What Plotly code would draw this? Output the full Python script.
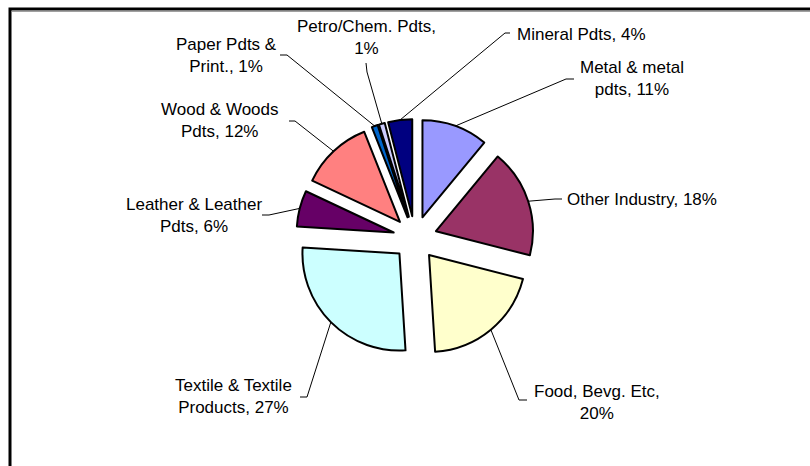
import math
import plotly.graph_objects as go

# Sector shares (%) in clockwise order starting at 12 o'clock
sectors = ["Metal & metal pdts", "Other Industry", "Food, Bevg. Etc",
           "Textile & Textile Products", "Leather & Leather Pdts",
           "Wood & Woods Pdts", "Paper Pdts & Print.", "Petro/Chem. Pdts",
           "Mineral Pdts"]
shares = [11, 18, 20, 27, 6, 12, 1, 1, 4]
label_text = ["Metal & metal<br>pdts, 11%", "Other Industry, 18%",
              "Food, Bevg. Etc,<br>20%", "Textile & Textile<br>Products, 27%",
              "Leather & Leather<br>Pdts, 6%", "Wood & Woods<br>Pdts, 12%",
              "Paper Pdts &<br>Print., 1%", "Petro/Chem. Pdts,<br>1%",
              "Mineral Pdts, 4%"]
colors = ["#9999FF", "#993366", "#FFFFCC", "#CCFFFF", "#660066",
          "#FF8080", "#0066CC", "#CCCCFF", "#000080"]

W, H = 810, 466
CX, CY = 415, 238          # pie centre in pixels (from top-left)
R_OUT = 119                # radius incl. explosion
PULL = 0.227


def px(x, y):
    return x / W, 1 - y / H


# label placement: (text x, text y, anchor, elbow point, tick end)
label_layout = [
    (632, 79, "center", (566, 79), (574, 79)),
    (565, 199, "left", (555, 199), (562, 199)),
    (597, 402, "center", (519, 400), (527, 400)),
    (234, 396, "center", (307, 397), (300, 397)),
    (194, 215, "center", (269, 215), (262, 215)),
    (220, 120, "center", (295, 121), (289, 121)),
    (226, 56, "center", (287, 55), (280, 55)),
    (366, 38, "center", (367, 72), (366, 63)),
    (515, 34, "left", (505, 33), (510, 33)),
]

fig = go.Figure()
fig.add_trace(go.Pie(
    labels=sectors,
    values=shares,
    sort=False,
    direction="clockwise",
    rotation=0,
    pull=[PULL] * len(shares),
    marker=dict(colors=colors, line=dict(color="black", width=2)),
    textinfo="none",
    showlegend=False,
    domain=dict(x=[(CX - R_OUT) / W, (CX + R_OUT) / W],
                y=[1 - (CY + R_OUT) / H, 1 - (CY - R_OUT) / H]),
))

shapes = []
annotations = []
total = sum(shares)
cum = 0
for val, txt, (tx, ty, anc, elbow, tick) in zip(shares, label_text, label_layout):
    mid = (cum + val / 2) / total * 2 * math.pi
    cum += val
    ax = CX + R_OUT * math.sin(mid)
    ay = CY - R_OUT * math.cos(mid)
    x0, y0 = px(ax, ay)
    x1, y1 = px(*elbow)
    x2, y2 = px(*tick)
    shapes.append(dict(type="path", xref="paper", yref="paper",
                       path=f"M {x0} {y0} L {x1} {y1} L {x2} {y2}",
                       line=dict(color="black", width=1)))
    lx, ly = px(tx, ty)
    annotations.append(dict(x=lx, y=ly, xref="paper", yref="paper",
                            text=txt, showarrow=False, xanchor=anc,
                            yanchor="middle", align="center",
                            font=dict(size=17, color="black",
                                      family="Liberation Sans, Arial")))

# chart area frame (top and left edges visible)
for path, col, w in [
    (f"M {px(10, 466)[0]} {px(10, 466)[1]} L {px(10, 9)[0]} {px(10, 9)[1]} L 1 {px(10, 9)[1]}", "black", 3),
]:
    shapes.append(dict(type="path", xref="paper", yref="paper", path=path,
                       line=dict(color=col, width=w)))
shapes.append(dict(type="line", xref="paper", yref="paper",
                   x0=px(12, 11)[0], y0=px(12, 11.5)[1], x1=1, y1=px(12, 11.5)[1],
                   line=dict(color="#A0A0A0", width=1)))

fig.update_layout(
    width=W, height=H,
    margin=dict(l=0, r=0, t=0, b=0),
    paper_bgcolor="white", plot_bgcolor="white",
    shapes=shapes, annotations=annotations,
)

fig.write_html("out.html")
